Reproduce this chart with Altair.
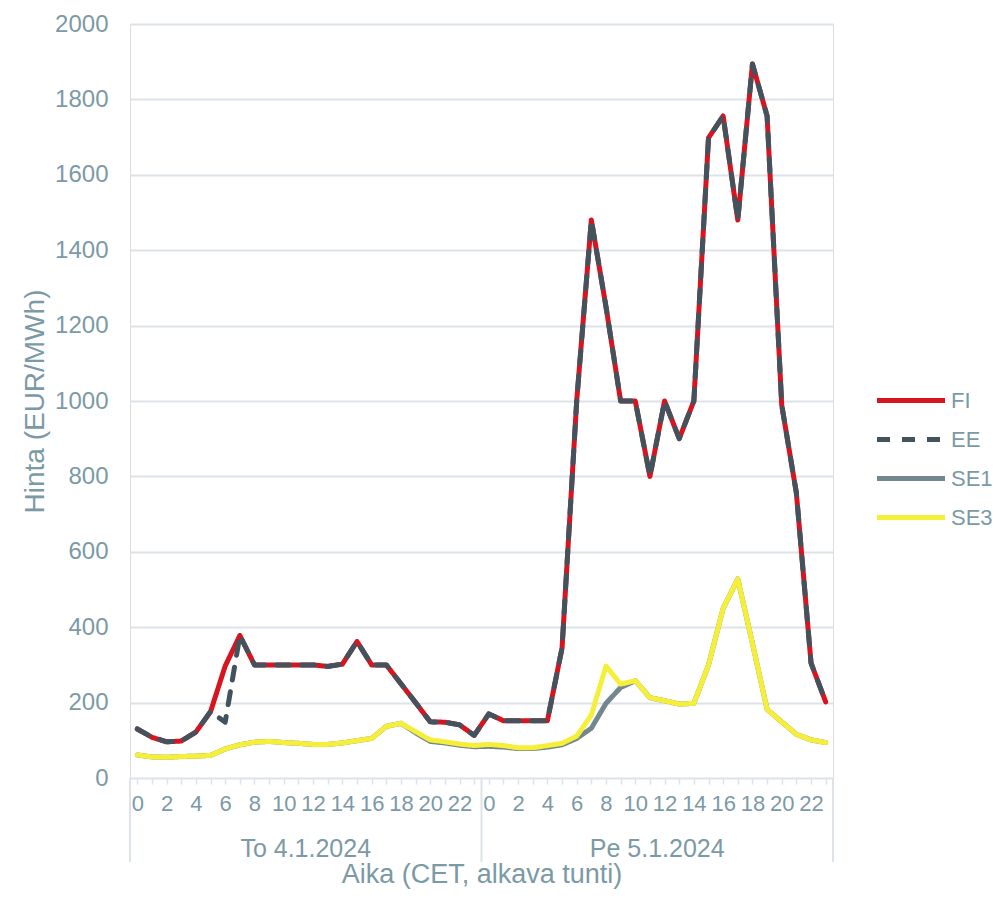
import altair as alt
import pandas as pd

series = ["FI", "EE", "SE1", "SE3"]
colors = ["#d7141f", "#43535d", "#72878f", "#f5ef3a"]
dashes = [[1, 0], [13, 12], [1, 0], [1, 0]]

days = ["To 4.1.2024", "Pe 5.1.2024"]
hours = list(range(24))

fi = [130, 108, 96, 98, 122, 176, 297, 378, 300, 300, 300, 300, 300, 296, 302, 362, 300, 300, 250, 200, 149, 148, 141, 113,
      170, 152, 152, 152, 152, 345, 1000, 1480, 1250, 1000, 1000, 800, 1000, 900, 1000, 1698, 1756, 1480, 1894, 1756, 989, 756, 305, 202]
ee = [130, 108, 96, 98, 122, 176, 148, 378, 300, 300, 300, 300, 300, 296, 302, 362, 300, 300, 250, 200, 149, 148, 141, 113,
      170, 152, 152, 152, 152, 345, 1000, 1480, 1250, 1000, 1000, 800, 1000, 900, 1000, 1698, 1756, 1480, 1894, 1756, 989, 756, 305, 202]
se1 = [61, 56, 55, 57, 58, 60, 77, 88, 95, 97, 94, 92, 89, 89, 93, 99, 105, 137, 145, 120, 97, 93, 87, 83,
       84, 82, 78, 78, 82, 88, 105, 132, 198, 240, 258, 213, 205, 196, 198, 300, 450, 528, 357, 182, 149, 116, 101, 94]
se3 = [61, 56, 55, 57, 58, 60, 77, 88, 95, 97, 94, 92, 89, 89, 93, 99, 105, 137, 145, 123, 101, 96, 90, 86,
       89, 86, 80, 80, 86, 92, 111, 167, 297, 249, 258, 213, 205, 196, 198, 300, 450, 528, 357, 182, 149, 116, 101, 94]

TXT = "#7b9aa5"
GRID = "#dde3e7"
FONT = "Liberation Sans"
W, H = 703, 754

rows = []
for name, vals in zip(series, [fi, ee, se1, se3]):
    for i, v in enumerate(vals):
        rows.append({"series": name, "idx": i, "day": days[i // 24], "hour": hours[i % 24], "price": v})
df = pd.DataFrame(rows)

day_df = pd.DataFrame({"day": days, "center": [11.5, 35.5]})
sep_df = pd.DataFrame({"b": [-0.5, 23.5, 47.5]})

xscale = alt.Scale(domain=[-0.5, 47.5], nice=False, zero=False)
yscale = alt.Scale(domain=[0, 2000], nice=False)

color = alt.Color("series:N", scale=alt.Scale(domain=series, range=colors),
                  legend=alt.Legend(title=None, orient="none", legendX=744.5, legendY=357,
                                    symbolType="stroke", symbolSize=4624, symbolStrokeWidth=5,
                                    clipHeight=39, rowPadding=0, padding=0,
                                    labelFont=FONT, labelFontSize=22, labelColor=TXT,
                                    labelOffset=3.5, labelLimit=200))
dash = alt.StrokeDash("series:N", scale=alt.Scale(domain=series, range=dashes), legend=None)

xaxis = alt.Axis(values=list(range(48)),
                 labelExpr="datum.value % 2 == 0 ? '' + (datum.value % 24) : ''",
                 labelFont=FONT, labelFontSize=22, labelColor=TXT, labelPadding=9,
                 labelOverlap=False, labelFlush=False, labelBound=False,
                 ticks=True, tickSize=6, tickColor=GRID, tickWidth=1.5,
                 domain=False, grid=False,
                 title="Aika (CET, alkava tunti)", titleFont=FONT, titleFontSize=27,
                 titleFontWeight="normal", titleColor=TXT, titlePadding=47)
yaxis = alt.Axis(values=list(range(0, 2001, 200)), format="d", labelFont=FONT, labelFontSize=24,
                 labelColor=TXT, labelPadding=22, ticks=False, domain=False,
                 grid=True, gridColor=GRID, gridWidth=2,
                 title="Hinta (EUR/MWh)", titleFont=FONT, titleFontSize=28,
                 titleFontWeight="normal", titleColor=TXT, titlePadding=5)

def line_layer(name):
    return alt.Chart(df).transform_filter(alt.datum.series == name).mark_line(
        strokeWidth=5, strokeCap="round", strokeJoin="round"
    ).encode(
        x=alt.X("idx:Q", scale=xscale, axis=xaxis),
        y=alt.Y("price:Q", scale=yscale, axis=yaxis),
        color=color,
        strokeDash=dash,
        order=alt.Order("idx:Q"),
    )

layers = [line_layer(s) for s in ["SE1", "SE3", "FI", "EE"]]

seps = alt.Chart(sep_df).mark_rule(color=GRID, strokeWidth=2).encode(
    x=alt.X("b:Q", scale=xscale, axis=xaxis),
    y=alt.value(H), y2=alt.value(H + 84),
)
daytext = alt.Chart(day_df).mark_text(font=FONT, fontSize=25, color=TXT, baseline="alphabetic",
                                      align="center").encode(
    x=alt.X("center:Q", scale=xscale, axis=xaxis),
    y=alt.value(H + 79),
    text="day:N",
)

chart = alt.layer(*layers, seps, daytext).properties(
    width=W, height=H,
    autosize=alt.AutoSizeParams(type="none"),
    padding={"left": 122, "top": 16, "right": 161, "bottom": 112},
).configure_view(stroke=None).configure_axis(labelOverlap=False).configure(background="white")

chart.save("out.html", embed_options={"renderer": "svg", "actions": False})
